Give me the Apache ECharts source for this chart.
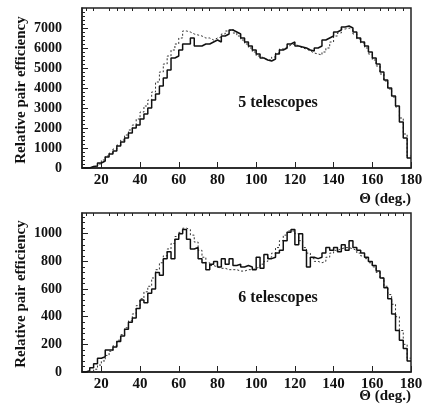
<!DOCTYPE html>
<html>
<head>
<meta charset="utf-8">
<script src="https://cdn.jsdelivr.net/npm/echarts@6/dist/echarts.min.js"></script>
<style>
html, body { margin: 0; padding: 0; background: #fff; }
#chart { width: 426px; height: 412px; }
</style>
</head>
<body>
<div id="chart"></div>
<script>
// histogram bins: 2 deg wide, from 10 to 180 deg
var binLo = 10;
var binWidth = 2;
var xTicks = [20, 40, 60, 80, 100, 120, 140, 160, 180];
var xMinorTicks = [12, 16, 24, 28, 32, 36, 44, 48, 52, 56, 64, 68, 72, 76,
	84, 88, 92, 96, 104, 108, 112, 116, 124, 128, 132, 136, 144, 148, 152, 156,
	164, 168, 172, 176];
var yTicksTop = [0, 1000, 2000, 3000, 4000, 5000, 6000, 7000];
var yTicksBottom = [0, 200, 400, 600, 800, 1000];

// 5 telescopes
var tel5Solid = [0, 0, 80, 100, 250, 350, 550, 700, 850, 1100,
	1300, 1500, 1750, 2000, 2150, 2450, 2700, 3000, 3400, 3700,
	4100, 4500, 4900, 5500, 5600, 5900, 6200, 6200, 6500, 6100,
	6100, 6200, 6200, 6300, 6400, 6300, 6600, 6700, 6900, 6800,
	6700, 6500, 6300, 6100, 5900, 5700, 5500, 5400, 5350, 5450,
	5700, 5900, 6000, 6200, 6300, 6100, 6050, 6000, 5900, 5850,
	6000, 6100, 6400, 6500, 6600, 6800, 6900, 7050, 7100, 7000,
	6800, 6500, 6300, 6100, 5800, 5500, 5200, 4800, 4400, 4000,
	3600, 3100, 2300, 1500, 500];
var tel5Dashed = [0, 0, 0, 50, 200, 400, 600, 750, 950, 1150,
	1400, 1650, 1900, 2150, 2450, 2800, 3100, 3400, 3800, 4300,
	4800, 5200, 5600, 5900, 6200, 6500, 6850, 6800, 6700, 6650,
	6600, 6500, 6500, 6400, 6500, 6550, 6700, 6850, 6950, 6750,
	6600, 6400, 6200, 6000, 5800, 5600, 5500, 5400, 5400, 5550,
	5750, 5950, 6050, 6150, 6200, 6100, 6000, 5950, 5850, 5750,
	5700, 5650, 5800, 6000, 6300, 6600, 6750, 6950, 7000, 6900,
	6700, 6450, 6250, 6000, 5700, 5400, 5100, 4700, 4350, 3950,
	3550, 3050, 2500, 1700, 600];

// 6 telescopes
var tel6Solid = [0, 10, 30, 60, 100, 110, 160, 160, 180, 220,
	260, 310, 360, 390, 460, 520, 500, 570, 600, 720,
	700, 820, 870, 820, 960, 1000, 1030, 960, 890, 900,
	820, 790, 740, 780, 800, 760, 820, 780, 820, 770,
	780, 760, 770, 760, 740, 830, 750, 850, 820, 830,
	860, 880, 950, 1010, 1030, 920, 1000, 880, 760, 830,
	820, 830, 860, 900, 880, 900, 870, 920, 880, 950,
	900, 880, 860, 830, 800, 770, 730, 680, 610, 530,
	420, 300, 230, 170, 80];
var tel6Dashed = [0, 0, 0, 20, 50, 80, 120, 150, 190, 230,
	270, 320, 370, 420, 480, 530, 580, 620, 680, 740,
	790, 840, 890, 930, 980, 1010, 1040, 1030, 990, 940,
	880, 830, 790, 770, 760, 750, 750, 740, 740, 740,
	730, 730, 740, 740, 750, 760, 780, 800, 830, 860,
	900, 950, 990, 1020, 1020, 1000, 950, 900, 860, 820,
	800, 790, 800, 830, 860, 880, 890, 900, 900, 890,
	880, 860, 840, 820, 790, 760, 720, 680, 620, 560,
	490, 400, 300, 200, 100];

var fontFam = '"Liberation Serif", "DejaVu Serif", serif';

function histData(vals) {
	var out = [];
	for (var i = 0; i < vals.length; i++) {
		out.push([binLo + i * binWidth, vals[i]]);
	}
	// close last bin at its right edge
	out.push([binLo + vals.length * binWidth, vals[vals.length - 1]]);
	return out;
}

// labelled axis with the long ticks
function makeX(gridIndex) {
	return {
		type: 'value', gridIndex: gridIndex, min: 10, max: 180, interval: 10,
		axisLine: { show: true, onZero: false, lineStyle: { color: '#222', width: 1.5 } },
		axisTick: { inside: true, length: 6, customValues: xTicks, lineStyle: { color: '#222', width: 1 } },
		axisLabel: { margin: 5, color: '#111', fontFamily: fontFam, fontWeight: 'bold', fontSize: 15,
			customValues: xTicks },
		splitLine: { show: false }
	};
}

// second axis on the same grid, only for the short ticks
function makeXMinor(gridIndex) {
	return {
		type: 'value', gridIndex: gridIndex, min: 10, max: 180, interval: 10,
		axisLine: { show: false, onZero: false },
		axisTick: { inside: true, length: 3, customValues: xMinorTicks, lineStyle: { color: '#222', width: 1 } },
		axisLabel: { show: false },
		splitLine: { show: false }
	};
}

function makeY(gridIndex, max, step, labels) {
	return {
		type: 'value', gridIndex: gridIndex, min: 0, max: max, interval: step,
		axisLine: { show: true, lineStyle: { color: '#222', width: 1.5 } },
		axisTick: { inside: true, length: 6, customValues: labels, lineStyle: { color: '#222', width: 1 } },
		minorTick: { show: true, splitNumber: 5, length: 3, lineStyle: { color: '#222' } },
		axisLabel: { margin: 20, color: '#111', fontFamily: fontFam, fontWeight: 'bold', fontSize: 14,
			customValues: labels, formatter: function (v) { return String(v); } },
		splitLine: { show: false }
	};
}

function solidSeries(vals, idx) {
	return {
		type: 'line', step: 'end', xAxisIndex: idx * 2, yAxisIndex: idx,
		data: histData(vals), symbol: 'none', animation: false,
		lineStyle: { color: '#111', width: 1.5 }
	};
}

function dashedSeries(vals, idx) {
	return {
		type: 'line', step: 'end', xAxisIndex: idx * 2, yAxisIndex: idx,
		data: histData(vals), symbol: 'none', animation: false,
		lineStyle: { color: '#333', width: 1, type: [2, 2] }
	};
}

function label(text, x, y, rotate, size) {
	return {
		type: 'text', x: x, y: y, rotation: rotate ? Math.PI / 2 : 0,
		style: { text: text, fill: '#111', font: 'bold ' + size + 'px ' + fontFam,
			textAlign: 'center', textVerticalAlign: 'middle' }
	};
}

var chart = echarts.init(document.getElementById('chart'));

var option = {
	backgroundColor: '#fff',
	animation: false,
	grid: [
		{ left: 82, top: 8, width: 329, height: 160, show: true, borderColor: '#222', borderWidth: 1.5 },
		{ left: 82, top: 213, width: 329, height: 159, show: true, borderColor: '#222', borderWidth: 1.5 }
	],
	xAxis: [makeX(0), makeXMinor(0), makeX(1), makeXMinor(1)],
	yAxis: [makeY(0, 8000, 1000, yTicksTop), makeY(1, 1150, 200, yTicksBottom)],
	series: [
		dashedSeries(tel5Dashed, 0),
		solidSeries(tel5Solid, 0),
		dashedSeries(tel6Dashed, 1),
		solidSeries(tel6Solid, 1)
	],
	graphic: [
		label('Relative pair efficiency', 21, 90, true, 15),
		label('Relative pair efficiency', 21, 294, true, 15),
		label('5 telescopes', 278, 103, false, 16),
		label('6 telescopes', 278, 298, false, 16),
		{ type: 'text', right: 15, top: 192,
			style: { text: 'Θ (deg.)', fill: '#111', font: 'bold 15px ' + fontFam } },
		{ type: 'text', right: 15, top: 389,
			style: { text: 'Θ (deg.)', fill: '#111', font: 'bold 15px ' + fontFam } }
	]
};

chart.setOption(option);
</script>
</body>
</html>
